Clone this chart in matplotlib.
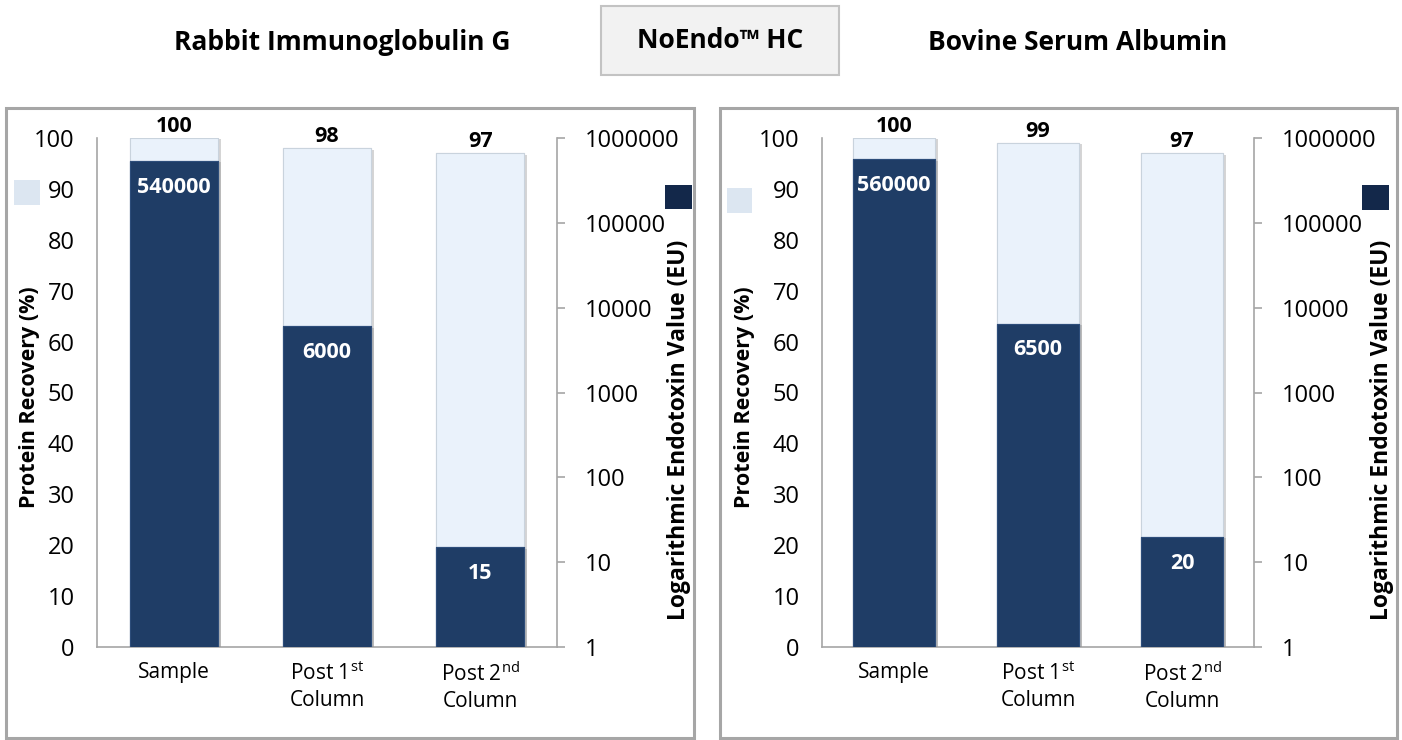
import matplotlib
matplotlib.use("Agg")
import matplotlib.pyplot as plt
from matplotlib.patches import Rectangle
import matplotlib.patheffects as pe
import numpy as np

plt.rcParams['font.family'] = ['Open Sans', 'DejaVu Sans']
plt.rcParams['mathtext.fontset'] = 'custom'
plt.rcParams['mathtext.rm'] = 'Open Sans'
plt.rcParams['mathtext.it'] = 'Open Sans'
plt.rcParams['mathtext.bf'] = 'Open Sans:bold'

# ---- data ----
categories = ["Sample", "Post 1$^{\\mathrm{st}}$\nColumn", "Post 2$^{\\mathrm{nd}}$\nColumn"]
panel_titles = ["Rabbit Immunoglobulin G", "Bovine Serum Albumin"]
center_title = "NoEndo\u2122 HC"
recovery_igg = [100, 98, 97]
endotoxin_igg = [540000, 6000, 15]
recovery_bsa = [100, 99, 97]
endotoxin_bsa = [560000, 6500, 20]
left_ticks = [0, 10, 20, 30, 40, 50, 60, 70, 80, 90, 100]
right_ticks = [1, 10, 100, 1000, 10000, 100000, 1000000]
ylabel_left = "Protein Recovery (%)"
ylabel_right = "Logarithmic Endotoxin Value (EU)"

W, H = 1402, 740
fig = plt.figure(figsize=(W / 100, H / 100), dpi=100)

def fx(x):
    return x / W

def fy(y):
    return 1 - y / H

LIGHT = "#eaf2fb"
LIGHT_EDGE = "#c9d3dd"
DARK = "#1f3d66"
DARK_EDGE = "#2d4d7a"
SPINE = "#a6a6a6"

# panel boxes
for (x0, x1) in [(6, 694), (720, 1397)]:
    fig.add_artist(Rectangle((fx(x0), fy(738)), fx(x1) - fx(x0), fy(108) - fy(738),
                             transform=fig.transFigure, fill=False,
                             edgecolor=SPINE, linewidth=2.2))

# center title box
fig.add_artist(Rectangle((fx(601), fy(75)), fx(839) - fx(601), fy(6) - fy(75),
                         transform=fig.transFigure, facecolor="#f2f2f2",
                         edgecolor="#c3c3c3", linewidth=1.5))
fig.text(fx(720), fy(40), center_title, ha="center", va="center",
         fontsize=19, fontweight="bold")
fig.text(fx(342), fy(43), panel_titles[0], ha="center", va="center",
         fontsize=19, fontweight="bold")
fig.text(fx(1078), fy(43), panel_titles[1], ha="center", va="center",
         fontsize=19, fontweight="bold")

# legend squares
for (x0, y0, x1, y1, c) in [(14, 180, 40, 205, "#dce6f1"), (665, 185, 692, 209, "#13284a"),
                            (727, 188, 752, 213, "#dce6f1"), (1362, 185, 1389, 210, "#13284a")]:
    fig.add_artist(Rectangle((fx(x0), fy(y1)), fx(x1) - fx(x0), fy(y0) - fy(y1),
                             transform=fig.transFigure, facecolor=c, edgecolor="none"))

panels = [
    (97, 460, recovery_igg, endotoxin_igg, -0.124, 1.239),
    (822, 432, recovery_bsa, endotoxin_bsa, -0.155, 1.268),
]

shadow = [pe.withSimplePatchShadow(offset=(2, -1), shadow_rgbFace="#888888", alpha=0.35), pe.Normal()]

for (left, width, rec, endo, ylx, yrx) in panels:
    ax = fig.add_axes([fx(left), fy(647), width / W, 509 / H])
    ax2 = ax.twinx()
    x = np.arange(len(categories))
    bw = 0.575

    bars = ax.bar(x, rec, width=bw, color=LIGHT, edgecolor=LIGHT_EDGE, linewidth=0.8, zorder=2)
    for b in bars:
        b.set_path_effects(shadow)
    for xi, v in zip(x, rec):
        ax.annotate(str(v), (xi, v), xytext=(0, 8.5), textcoords="offset points",
                    ha="center", va="center", fontsize=15.5, fontweight="bold")

    dbars = ax2.bar(x, [e - 1 for e in endo], bottom=1, width=bw, color=DARK,
                    edgecolor=DARK_EDGE, linewidth=0.8, zorder=3)
    for b in dbars:
        b.set_path_effects(shadow)
    for xi, v in zip(x, endo):
        ax2.annotate(str(v), (xi, v), xytext=(0, -19), textcoords="offset points",
                     ha="center", va="center", fontsize=15.5, fontweight="bold", color="white")

    ax.set_xlim(-0.5, 2.5)
    ax.set_ylim(0, 100)
    ax.set_yticks(left_ticks)
    ax.set_xticks(x)
    ax.set_xticklabels(categories, fontsize=15, linespacing=1.3)
    ax.tick_params(axis="x", length=0, pad=11)
    ax.tick_params(axis="y", length=0, pad=16, labelsize=17)
    ax.set_ylabel(ylabel_left, fontsize=15.5, fontweight="bold")
    ax.yaxis.set_label_coords(ylx, 0.49)

    ax2.set_yscale("log")
    ax2.set_ylim(1, 1000000)
    ax2.set_yticks(right_ticks)
    ax2.set_yticklabels([str(t) for t in right_ticks])
    ax2.minorticks_off()
    ax2.tick_params(axis="y", length=6, width=1.2, color=SPINE, pad=14, labelsize=17)
    ax2.set_ylabel(ylabel_right, fontsize=16.5, fontweight="bold", rotation=90)
    ax2.yaxis.set_label_coords(yrx, 0.426)

    for a in (ax, ax2):
        a.set_facecolor("none")
        for s in a.spines.values():
            s.set_visible(False)
    ax.spines["left"].set_visible(True)
    ax.spines["bottom"].set_visible(True)
    ax2.spines["right"].set_visible(True)
    for s in (ax.spines["left"], ax.spines["bottom"], ax2.spines["right"]):
        s.set_color(SPINE)
        s.set_linewidth(1.2)

fig.savefig("out.png", dpi=100)
